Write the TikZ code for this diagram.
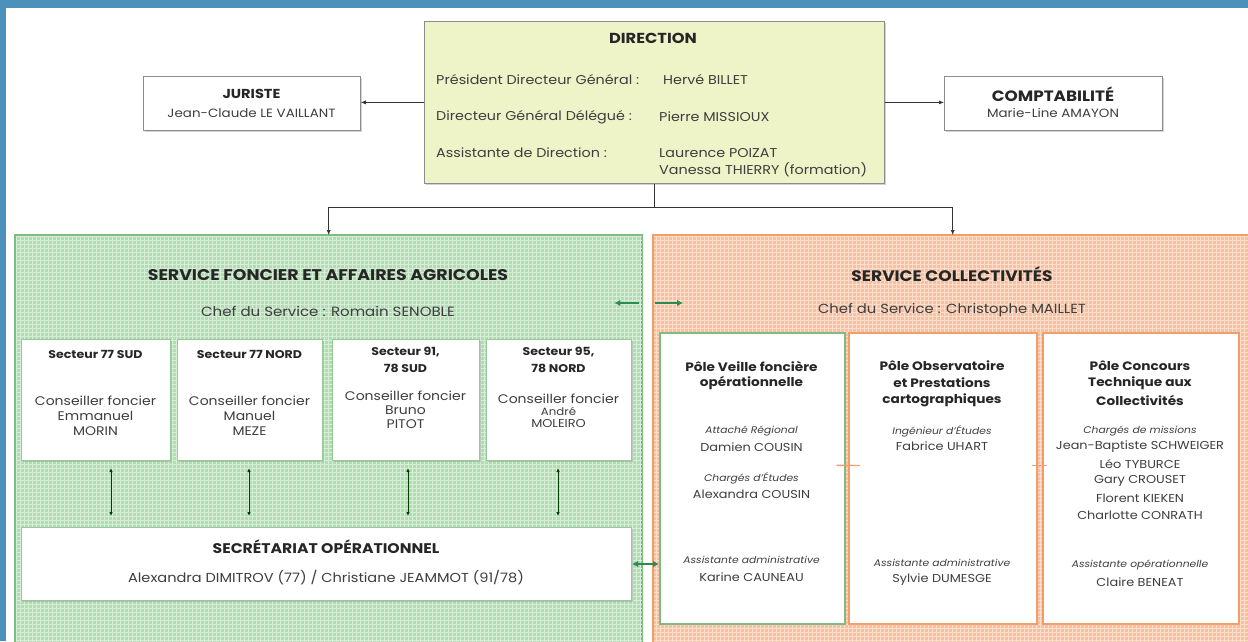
\documentclass[tikz,border=0pt]{standalone}
\usepackage{fontspec}
\setmainfont{Poppins}
\usetikzlibrary{arrows.meta,shadows,calc}
\definecolor{frameblue}{RGB}{76,145,187}
\definecolor{dirfill}{RGB}{238,243,200}
\definecolor{gbase}{RGB}{178,220,180}
\definecolor{gline}{RGB}{214,237,214}
\definecolor{gborder}{RGB}{125,188,130}
\definecolor{obase}{RGB}{248,192,158}
\definecolor{oline}{RGB}{252,222,204}
\definecolor{oborder}{RGB}{240,158,108}
\definecolor{darkgreen}{RGB}{46,139,80}
\definecolor{txt}{RGB}{62,62,62}
\definecolor{boxgray}{RGB}{140,140,140}
\newcommand\myfs[1]{\fontsize{#1}{#1}\selectfont}
\begin{document}
\begin{tikzpicture}[x=1pt,y=-1pt,
  whitebox/.style={draw=boxgray, line width=0.8pt, fill=white, anchor=north west, inner sep=0pt,
     drop shadow={shadow xshift=1.2pt, shadow yshift=-1.2pt, opacity=0.35}},
  secbox/.style={draw=gborder!80, line width=1pt, fill=white, anchor=north west, inner sep=0pt,
     drop shadow={shadow xshift=1.2pt, shadow yshift=-1.2pt, opacity=0.3}},
  polegreen/.style={draw=gborder, line width=1.6pt, fill=white, anchor=north west, inner sep=0pt},
  poleorange/.style={draw=oborder, line width=2pt, fill=white, anchor=north west, inner sep=0pt},
  tx/.style={inner sep=0pt, text=txt, xscale=1.12, font=\myfs{12.5}},
  tn/.style={inner sep=0pt, text=txt, xscale=1.12, font=\myfs{11.5}},
  ti/.style={inner sep=0pt, text=txt, xscale=1.12, font=\myfs{9.6}\itshape},
  tb/.style={inner sep=0pt, text=black!85, xscale=1.12, font=\myfs{12.2}\bfseries},
  arr/.style={draw=black!80, line width=0.7pt, -{Latex[length=5pt,width=4pt]}},
  garrow/.style={draw=darkgreen, line width=2.6pt, -{Latex[length=6pt,width=6.5pt]}},
  garrowboth/.style={draw=darkgreen, line width=2.6pt, {Latex[length=6pt,width=6.5pt]}-{Latex[length=6pt,width=6.5pt]}},
  varrow/.style={draw=black!75!green, line width=0.8pt, {Latex[length=4pt,width=3.5pt]}-{Latex[length=4pt,width=3.5pt]}},
  otick/.style={draw=oborder, line width=1.4pt}]
\clip (0,0) rectangle (1248,641);
\useasboundingbox (0,0) rectangle (1248,641);
\fill[white] (0,0) rectangle (1248,641);
% blue frame
\fill[frameblue] (0,0) rectangle (1248,8);
\fill[frameblue] (0,0) rectangle (6,641);

% ---------- top level ----------
\node[whitebox, fill=dirfill, minimum width=460pt, minimum height=162pt] (dir) at (424,21) {};
\node[tb, font=\myfs{14.5}\bfseries] (dirT) at (653,38) {DIRECTION};
\node[tx, font=\myfs{12.8}, anchor=west] (dl1) at (436,80) {Président Directeur Général :};
\node[tx, font=\myfs{12.8}, anchor=west] (dl2) at (436,117) {Directeur Général Délégué :};
\node[tx, font=\myfs{12.8}, anchor=west] (dl3) at (436,153) {Assistante de Direction :};
\node[tx, font=\myfs{12.8}, anchor=west] (dv1) at (663,80) {Hervé BILLET};
\node[tx, font=\myfs{12.8}, anchor=west] (dv2) at (659,117) {Pierre MISSIOUX};
\node[tx, font=\myfs{12.8}, anchor=west] (dv3) at (659,153) {Laurence POIZAT};
\node[tx, font=\myfs{12.8}, anchor=west] (dv4) at (659,170) {Vanessa THIERRY (formation)};

\node[whitebox, minimum width=217pt, minimum height=54pt] (jur) at (143,76) {};
\node[tb, font=\myfs{13}\bfseries] (jurT) at (251.5,94) {JURISTE};
\node[tx, font=\myfs{12}] (jurN) at (251.5,113) {Jean-Claude LE VAILLANT};

\node[whitebox, minimum width=218pt, minimum height=54pt] (cpt) at (944,76) {};
\node[tb, font=\myfs{15}\bfseries] (cptT) at (1053,94) {COMPTABILITÉ};
\node[tx, font=\myfs{12}] (cptN) at (1053,113) {Marie-Line AMAYON};

\draw[arr] (dir.west) -- (dir.west -| jur.east);
\draw[arr] (dir.east) -- (dir.east -| cpt.west);

% ---------- service boxes ----------
\node[draw=gborder, line width=1.4pt, fill=gbase, anchor=north west, inner sep=0pt,
      minimum width=626pt, minimum height=420pt] (gbox) at (15,235) {};
\begin{scope}
  \clip (gbox.north west) rectangle (gbox.south east);
  \draw[gline, line width=1pt, step=4pt] (gbox.north west) grid (gbox.south east);
\end{scope}
\draw[gborder, line width=1.4pt] (gbox.north west) rectangle (gbox.south east);

\node[draw=oborder, line width=1.4pt, fill=obase, anchor=north west, inner sep=0pt,
      minimum width=600pt, minimum height=420pt] (obox) at (653,235) {};
\begin{scope}
  \clip (obox.north west) rectangle (obox.south east);
  \draw[oline, line width=1pt, step=4pt] (obox.north west) grid (obox.south east);
\end{scope}
\draw[oborder, line width=1.4pt] (obox.north west) rectangle (obox.south east);

\coordinate (hub) at ($(dir.south)+(0,24)$);
\draw[draw=black!80, line width=0.7pt] (dir.south) -- (hub);
\draw[arr] (hub) -| (gbox.north);
\draw[arr] (hub) -| ([xshift=-1pt]obox.north);

\node[tb, font=\myfs{15.5}\bfseries] (gT) at (328,275) {SERVICE FONCIER ET AFFAIRES AGRICOLES};
\node[tx, font=\myfs{13.4}] (gC) at (328,311) {Chef du Service : Romain SENOBLE};
\node[tb, font=\myfs{15.2}\bfseries] (oT) at (952,274) {SERVICE COLLECTIVITÉS};
\node[tx, font=\myfs{13.2}] (oC) at (952,310) {Chef du Service : Christophe MAILLET};

\draw[garrow] ([shift={(-3,68)}]gbox.north east) -- ([shift={(-28,68)}]gbox.north east);
\draw[garrow] ([shift={(2,68)}]obox.north west) -- ([shift={(30,68)}]obox.north west);

% ---------- sectors ----------
\node[secbox, minimum width=149pt, minimum height=121pt] (s1) at (21,339) {};
\node[secbox, minimum width=145pt, minimum height=121pt] (s2) at (177,339) {};
\node[secbox, minimum width=147pt, minimum height=121pt] (s3) at (332,339) {};
\node[secbox, minimum width=145pt, minimum height=121pt] (s4) at (486,339) {};

\node[tb, font=\myfs{11.2}\bfseries] (s1T) at (95.5,354) {Secteur 77 SUD};
\node[tx] (s1a) at (95.5,401) {Conseiller foncier};
\node[tx] (s1b) at (95.5,416) {Emmanuel};
\node[tx] (s1c) at (95.5,431) {MORIN};

\node[tb, font=\myfs{11.2}\bfseries] (s2T) at (249.5,354) {Secteur 77 NORD};
\node[tx] (s2a) at (249.5,401) {Conseiller foncier};
\node[tx] (s2b) at (249.5,416) {Manuel};
\node[tx] (s2c) at (249.5,431) {MEZE};

\node[tb, font=\myfs{11.2}\bfseries] (s3T) at (405.5,352) {Secteur 91,};
\node[tb, font=\myfs{11.2}\bfseries] (s3U) at (405.5,368) {78 SUD};
\node[tx] (s3a) at (405.5,396) {Conseiller foncier};
\node[tx] (s3b) at (405.5,410) {Bruno};
\node[tx] (s3c) at (405.5,424) {PITOT};

\node[tb, font=\myfs{11.2}\bfseries] (s4T) at (558.5,352) {Secteur 95,};
\node[tb, font=\myfs{11.2}\bfseries] (s4U) at (558.5,368) {78 NORD};
\node[tx] (s4a) at (558.5,399) {Conseiller foncier};
\node[tx, font=\myfs{10.5}] (s4b) at (558.5,411) {André};
\node[tx, font=\myfs{11.5}] (s4c) at (558.5,423) {MOLEIRO};

% ---------- secretariat ----------
\node[secbox, minimum width=610pt, minimum height=73pt] (sec) at (21,527) {};
\node[tb, font=\myfs{14}\bfseries] (secT) at (326,547) {SECRÉTARIAT OPÉRATIONNEL};
\node[tx, font=\myfs{13}] (secN) at (326,578) {Alexandra DIMITROV (77) / Christiane JEAMMOT (91/78)};

\draw[varrow, shorten <=7pt, shorten >=11pt] ([xshift=15pt]s1.south) -- ([xshift=15pt]s1.south |- sec.north);
\draw[varrow, shorten <=7pt, shorten >=11pt] ([xshift=-1pt]s2.south) -- ([xshift=-1pt]s2.south |- sec.north);
\draw[varrow, shorten <=7pt, shorten >=11pt] ([xshift=2pt]s3.south) -- ([xshift=2pt]s3.south |- sec.north);
\draw[varrow, shorten <=7pt, shorten >=11pt] ([xshift=-1pt]s4.south) -- ([xshift=-1pt]s4.south |- sec.north);

% ---------- poles ----------
\node[polegreen, minimum width=185pt, minimum height=291pt] (p1) at (659,332) {};
\node[poleorange, minimum width=188pt, minimum height=291pt] (p2) at (848,332) {};
\node[poleorange, minimum width=196pt, minimum height=291pt] (p3) at (1042,332) {};

\draw[garrowboth] (sec.east) -- (sec.east -| p1.west);

\draw[otick] ([shift={(-9,-13)}]p1.east) -- ([shift={(12,-13)}]p2.west);
\draw[otick] ([shift={(-6,-13)}]p2.east) -- ([shift={(5,-13)}]p3.west);

% pole 1
\node[tb] (p1T) at (751.5,366) {Pôle Veille foncière};
\node[tb] (p1U) at (751.5,383) {opérationnelle};
\node[ti] (p1a) at (751.5,431) {Attaché Régional};
\node[tn] (p1b) at (751.5,447) {Damien COUSIN};
\node[ti] (p1c) at (751.5,478) {Chargés d'Études};
\node[tn] (p1d) at (751.5,494) {Alexandra COUSIN};
\node[ti] (p1e) at (751.5,560) {Assistante administrative};
\node[tn] (p1f) at (751.5,577) {Karine CAUNEAU};

% pole 2
\node[tb] (p2T) at (942,366) {Pôle Observatoire};
\node[tb] (p2U) at (942,383) {et Prestations};
\node[tb] (p2V) at (942,400) {cartographiques};
\node[ti] (p2a) at (942,431) {Ingénieur d'Études};
\node[tn] (p2b) at (942,446) {Fabrice UHART};
\node[ti] (p2c) at (942,563) {Assistante administrative};
\node[tn] (p2d) at (942,580) {Sylvie DUMESGE};

% pole 3
\node[tb] (p3T) at (1140,366) {Pôle Concours};
\node[tb] (p3U) at (1140,383) {Technique aux};
\node[tb] (p3V) at (1140,400) {Collectivités};
\node[ti] (p3a) at (1140,431) {Chargés de missions};
\node[tn] (p3b) at (1140,447) {Jean-Baptiste SCHWEIGER};
\node[tn] (p3c) at (1140,464) {Léo TYBURCE};
\node[tn] (p3d) at (1140,481) {Gary CROUSET};
\node[tn] (p3e) at (1140,498) {Florent KIEKEN};
\node[tn] (p3f) at (1140,515) {Charlotte CONRATH};
\node[ti] (p3g) at (1140,565) {Assistante opérationnelle};
\node[tn] (p3h) at (1140,582) {Claire BENEAT};
\end{tikzpicture}
\end{document}
